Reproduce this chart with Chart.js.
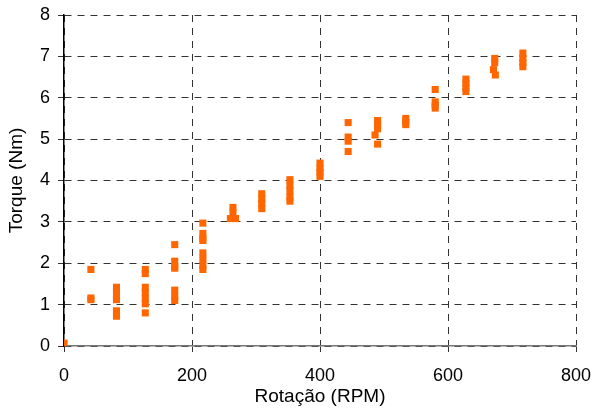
<!DOCTYPE html>
<html>
<head>
<meta charset="utf-8">
<script src="https://cdn.jsdelivr.net/npm/chart.js@4"></script>
<style>
  html, body { margin: 0; padding: 0; background: #fff; }
  #wrap { width: 595px; height: 412px; }
</style>
</head>
<body>
<div id="wrap"><canvas id="torqueChart" width="595" height="412"></canvas></div>
<script>
const rotacao = [
    0,
    42, 42, 42,
    82, 82, 82, 82, 82, 82,
    127, 127, 127, 127, 127, 127, 127,
    173, 173, 173, 173, 173, 173, 173,
    217, 217, 217, 217, 217, 217, 217, 217,
    264, 264, 260, 268,
    309, 309, 309, 309,
    353, 353, 353, 353, 353,
    400, 400, 400, 400,
    444, 444, 444, 444,
    490, 490, 490, 486, 490,
    534, 534, 534,
    580, 580, 580, 580,
    628, 628, 628, 628,
    673, 673, 671, 674,
    717, 717, 717, 717
]
const torque = [
    0.07,
    1.85, 1.16, 1.12,
    1.42, 1.33, 1.18, 1.12, 0.85, 0.72,
    1.85, 1.75, 1.42, 1.3, 1.15, 1.02, 0.8,
    2.45, 2.05, 1.92, 1.88, 1.35, 1.2, 1.1,
    2.97, 2.72, 2.6, 2.55, 2.25, 2.1, 1.95, 1.85,
    3.35, 3.22, 3.08, 3.08,
    3.68, 3.55, 3.45, 3.32,
    4.02, 3.88, 3.75, 3.6, 3.5,
    4.42, 4.3, 4.2, 4.1,
    5.4, 5.05, 4.95, 4.7,
    5.45, 5.35, 5.25, 5.1, 4.88,
    5.5, 5.42, 5.35,
    6.2, 5.9, 5.82, 5.75,
    6.45, 6.35, 6.25, 6.15,
    6.95, 6.85, 6.68, 6.55,
    7.08, 6.95, 6.85, 6.75
]
const xTicks = [0, 200, 400, 600, 800]
const yTicks = [0, 1, 2, 3, 4, 5, 6, 7, 8]

const points = rotacao.map((r, i) => ({ x: r, y: torque[i] }))

const tickFont = { family: 'Liberation Sans, Arial, sans-serif', size: 18 }
const titleFont = { family: 'Liberation Sans, Arial, sans-serif', size: 19 }

new Chart(document.getElementById('torqueChart').getContext('2d'), {
    type: 'scatter',
    data: {
        datasets: [{
            data: points,
            backgroundColor: '#FF6600',
            borderWidth: 0,
            pointStyle: 'rect',
            pointRadius: 5,
            pointHoverRadius: 5
        }]
    },
    options: {
        responsive: false,
        animation: false,
        layout: {
            padding: { top: 15, right: 19, left: 0, bottom: 0 }
        },
        plugins: {
            legend: { display: false },
            tooltip: { enabled: false }
        },
        scales: {
            x: {
                type: 'linear',
                min: xTicks[0],
                max: xTicks[xTicks.length - 1],
                afterBuildTicks: (scale) => {
                    scale.ticks = xTicks.map(v => ({ value: v }))
                },
                afterFit: (scale) => {
                    scale.height = 66
                    scale.paddingLeft = 0
                    scale.paddingRight = 0
                },
                ticks: {
                    color: '#000',
                    font: tickFont,
                    padding: 13,
                    maxRotation: 0
                },
                grid: {
                    color: '#333',
                    lineWidth: 1,
                    tickLength: 6,
                    tickColor: '#333'
                },
                border: {
                    color: '#777',
                    width: 1.5,
                    dash: [7, 6]
                },
                title: {
                    display: true,
                    text: 'Rotação (RPM)',
                    color: '#000',
                    font: titleFont,
                    padding: { top: 0, bottom: 4 }
                }
            },
            y: {
                type: 'linear',
                min: yTicks[0],
                max: yTicks[yTicks.length - 1],
                afterBuildTicks: (scale) => {
                    scale.ticks = yTicks.map(v => ({ value: v }))
                },
                afterFit: (scale) => {
                    scale.width = 64
                    scale.paddingTop = 0
                    scale.paddingBottom = 0
                },
                ticks: {
                    color: '#000',
                    font: tickFont,
                    padding: 8
                },
                grid: {
                    color: '#333',
                    lineWidth: 1,
                    tickLength: 6,
                    tickColor: '#333'
                },
                border: {
                    color: '#000',
                    width: 1.5,
                    dash: [7, 6]
                },
                title: {
                    display: true,
                    text: 'Torque (Nm)',
                    color: '#000',
                    font: titleFont,
                    padding: { top: 5, bottom: 0 }
                }
            }
        }
    }
})
</script>
</body>
</html>
